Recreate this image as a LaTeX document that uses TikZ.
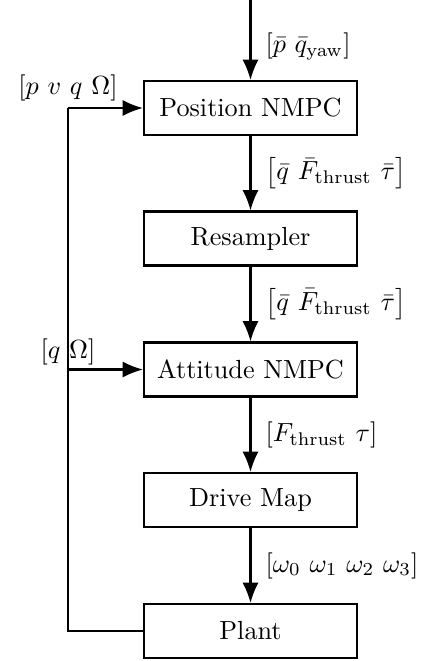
\documentclass[tikz,border=0pt]{standalone}
\usetikzlibrary{arrows.meta}
\begin{document}
\begin{tikzpicture}[x=0.3817pt,y=-0.3817pt,
  blk/.style={draw,line width=0.8pt,minimum width=81.3pt,minimum height=20.6pt,inner sep=0pt},
  sig/.style={line width=0.8pt,-{Latex[length=7.8pt,width=6.2pt]}},
  wire/.style={line width=0.8pt}]
\useasboundingbox (0,0) rectangle (425,661);
\node[blk] (pos) at (250.5,108) {Position NMPC};
\node[blk] (res) at (250.5,238.5) {Resampler};
\node[blk] (att) at (250.5,369.5) {Attitude NMPC};
\node[blk] (drv) at (250.5,500) {Drive Map};
\node[blk] (plt) at (250.5,631) {Plant};
\coordinate (in) at (250.5,0);
\coordinate (fbB) at (68,631);
\coordinate (fbT) at (68,108);
\coordinate (fbM) at (68,369.5);
\draw[sig] (in) -- node[right,xshift=2pt,yshift=-2.5pt] {$[\bar{p}\ \bar{q}_{\mathrm{yaw}}]$} (pos);
\draw[sig] (pos) -- node[right,xshift=2pt] {$\left[\bar{q}\ \bar{F}_{\mathrm{thrust}}\ \bar{\tau}\right]$} (res);
\draw[sig] (res) -- node[right,xshift=2pt] {$\left[\bar{q}\ \bar{F}_{\mathrm{thrust}}\ \bar{\tau}\right]$} (att);
\draw[sig] (att) -- node[right,xshift=2pt] {$[F_{\mathrm{thrust}}\ \tau]$} (drv);
\draw[sig] (drv) -- node[right,xshift=2pt] {$[\omega_0\ \omega_1\ \omega_2\ \omega_3]$} (plt);
\draw[wire] (plt.west) -- (fbB) -- (fbT);
\draw[sig] (fbT) -- (pos.west);
\draw[sig] (fbM) -- (att.west);
\node[above,yshift=-1pt] (lab1) at (fbT) {$[p\ v\ q\ \Omega]$};
\node[above,yshift=-2pt] (lab2) at (fbM) {$[q\ \Omega]$};
\end{tikzpicture}
\end{document}
